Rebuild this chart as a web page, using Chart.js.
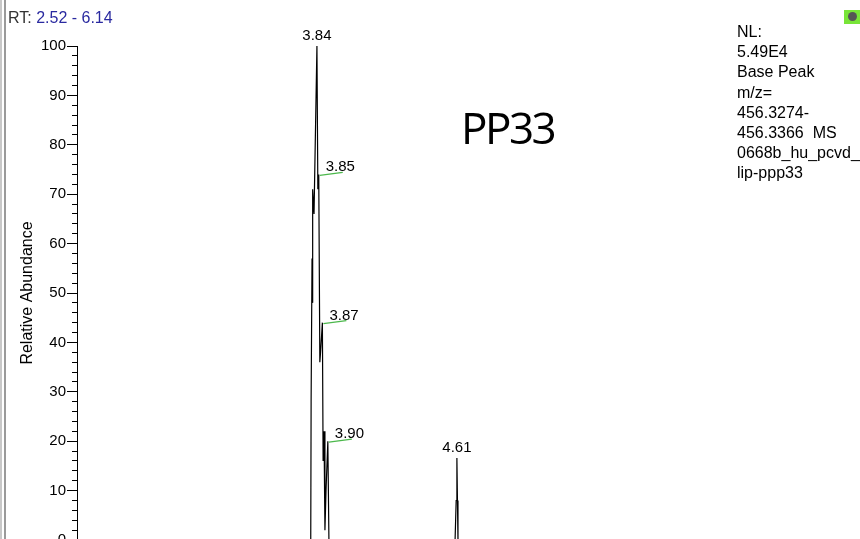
<!DOCTYPE html>
<html>
<head>
<meta charset="utf-8">
<script src="https://cdn.jsdelivr.net/npm/chart.js@4"></script>
<style>
  html, body { margin: 0; padding: 0; background: #fff; overflow: hidden; width: 860px; height: 539px; }
  body { position: relative; font-family: "Liberation Sans", Arial, sans-serif; }
  #wrap { position: absolute; left: 0; top: 0; width: 860px; height: 560px; }
  .edge1 { position: absolute; left: 0; top: 0; width: 2px; height: 539px; background: #c8c8c8; }
  .edge2 { position: absolute; left: 4px; top: 0; width: 2px; height: 539px; background: #9a9a9a; }
  #rt { position: absolute; left: 8px; top: 10px; font-size: 16px; line-height: 16px; color: #333; white-space: nowrap; }
  #rt span { color: #2a2aa0; }
  #info { position: absolute; left: 737px; top: 22px; font-size: 16px; line-height: 20.2px; color: #000; white-space: nowrap; }
  #name { position: absolute; left: 461px; top: 105px; font-family: "Open Sans", sans-serif; font-size: 44px; line-height: 44px; letter-spacing: -2.5px; color: #000; }
  #icon { position: absolute; left: 844px; top: 10px; width: 16px; height: 14px; background: #78e438; }
  #icon div { position: absolute; left: 4px; top: 2px; width: 9px; height: 9px; border-radius: 5px; background: #555; }
</style>
</head>
<body>
<div id="wrap"><canvas id="grafica" width="860" height="560"></canvas></div>
<div class="edge1"></div>
<div class="edge2"></div>
<div id="rt">RT: <span>2.52 - 6.14</span></div>
<div id="info">NL:<br>5.49E4<br>Base Peak<br>m/z=<br>456.3274-<br>456.3366&nbsp; MS<br>0668b_hu_pcvd_<br>lip-ppp33</div>
<div id="name">PP33</div>
<div id="icon"><div></div></div>
<script>
// tiempos de retencion (min) y abundancia relativa (%)
const rtValues = [2.52, 3.800, 3.806, 3.808, 3.813, 3.815, 3.818, 3.824, 3.840, 3.845, 3.850, 3.856, 3.860, 3.870, 3.874, 3.879, 3.884, 3.890, 3.900, 3.906,
                  4.600, 4.603, 4.606, 4.610, 4.613, 4.616, 6.14];
const abundanceValues = [0, 0, 0, 28, 57, 48, 71, 66, 100, 71, 74, 36, 38, 44, 16, 22, 2, 10, 20, 0,
                         0, 0, 8, 16.6, 8, 0, 0];

// etiquetas de picos
const peakRT = [3.84, 3.85, 3.87, 3.90, 4.61];
const peakAbund = [100, 74, 44, 20, 16.6];
const peakText = ['3.84', '3.85', '3.87', '3.90', '4.61'];
const peakLeader = [false, true, true, true, false];

const rtMin = 2.52;
const rtMax = 6.14;

const fuente = '"Liberation Sans", Arial, sans-serif';

const puntos = rtValues.map((t, i) => ({ x: t, y: abundanceValues[i] }));

// dibuja las etiquetas de los picos
const etiquetasPicos = {
    id: 'etiquetasPicos',
    afterDatasetsDraw(chart) {
        const ctx = chart.ctx;
        const xs = chart.scales.x;
        const ys = chart.scales.y;
        ctx.save();
        ctx.font = '15px ' + fuente;
        ctx.fillStyle = '#000';
        ctx.textBaseline = 'alphabetic';
        peakRT.forEach((t, i) => {
            const px = xs.getPixelForValue(t);
            const py = ys.getPixelForValue(peakAbund[i]);
            if (peakLeader[i]) {
                ctx.strokeStyle = '#4cb84c';
                ctx.lineWidth = 1.2;
                ctx.beginPath();
                ctx.moveTo(px + 1, py + 1);
                ctx.lineTo(px + 24, py - 2);
                ctx.stroke();
                ctx.textAlign = 'left';
                ctx.fillText(peakText[i], px + 7, py - 3);
            } else {
                ctx.textAlign = 'center';
                ctx.fillText(peakText[i], px, py - 6);
            }
        });
        ctx.restore();
    }
};

const ctx = document.getElementById('grafica').getContext('2d');
new Chart(ctx, {
    type: 'line',
    data: {
        datasets: [{
            data: puntos,
            borderColor: '#000',
            borderWidth: 1.2,
            pointRadius: 0,
            tension: 0,
            fill: false
        }]
    },
    options: {
        responsive: false,
        animation: false,
        devicePixelRatio: 1,
        layout: { padding: { left: 0, top: 46, right: 125, bottom: 20 } },
        plugins: {
            legend: { display: false },
            tooltip: { enabled: false }
        },
        scales: {
            x: {
                type: 'linear',
                min: rtMin,
                max: rtMax,
                display: false
            },
            y: {
                position: 'left',
                weight: 1,
                min: 0,
                max: 100,
                ticks: {
                    stepSize: 10,
                    padding: 1,
                    color: '#000',
                    font: { family: fuente, size: 15 }
                },
                grid: {
                    drawOnChartArea: false,
                    drawTicks: true,
                    tickLength: 10,
                    color: '#000'
                },
                border: { display: true, color: '#000', width: 1 },
                title: {
                    display: true,
                    text: 'Relative Abundance',
                    color: '#000',
                    font: { family: fuente, size: 16 },
                    padding: { top: 18, bottom: 0 }
                },
                afterFit: (scale) => { scale.width = 77; }
            },
            yMenor: {
                position: 'left',
                weight: 0,
                min: 0,
                max: 100,
                ticks: { stepSize: 2, display: false },
                grid: {
                    drawOnChartArea: false,
                    drawTicks: true,
                    tickLength: 5,
                    color: '#000'
                },
                border: { display: false },
                afterFit: (scale) => { scale.width = 0; }
            }
        }
    },
    plugins: [etiquetasPicos]
});
</script>
</body>
</html>
